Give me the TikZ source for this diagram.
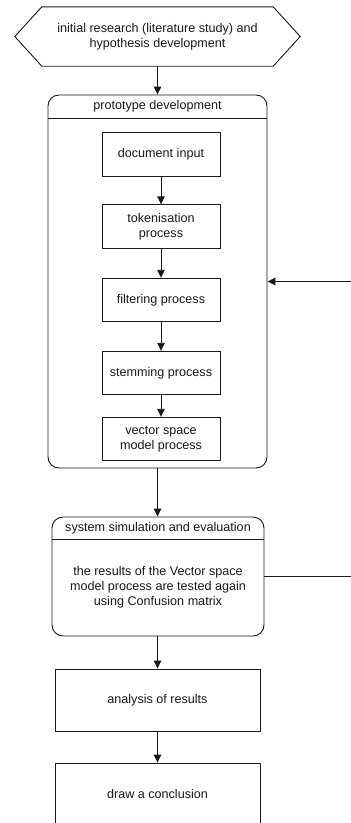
\documentclass[tikz,border=0pt]{standalone}
\usepackage{fontspec}
\setmainfont{Liberation Sans}
\usetikzlibrary{arrows.meta}
\begin{document}
\begin{tikzpicture}[x=1pt,y=-1pt,
  every node/.style={font=\fontsize{12.6pt}{15pt}\selectfont, align=center, inner sep=0pt, text=black!90},
  ln/.style={draw=black!90, line width=0.9pt},
  arr/.style={ln, -{Triangle[length=8pt,width=7.5pt]}},
  procbox/.style={ln, rectangle, minimum width=118pt, minimum height=43.5pt},
  bigbox/.style={ln, rectangle, minimum width=205pt, minimum height=62pt},
  group/.style={ln, rectangle, rounded corners=11pt}
]
\useasboundingbox (0,0) rectangle (351,823);
\clip (0,0) rectangle (351,823);
\fill[white] (0,0) rectangle (351,823);

% hexagon start
\node (hex) [minimum width=231pt, minimum height=59pt] at (157.5,36.5)
  {initial research (literature study) and\\hypothesis development};
\draw[ln] (hex.north west) -- (hex.north east) -- ([xshift=27pt]hex.east) -- (hex.south east)
  -- (hex.south west) -- ([xshift=-27pt]hex.west) -- cycle;

% prototype container
\node (proto) [group, minimum width=219pt, minimum height=373pt] at (157.5,281.5) {};
\node (protohead) at (157.5,106) {prototype development};
\coordinate (pl) at (48,118);
\coordinate (pr) at (267,118);
\draw[ln] (pl) -- (pr);

\node (doc)  [procbox] at (161,154.5) {document input};
\node (tok)  [procbox] at (161,226.5) {tokenisation\\process};
\node (fil)  [procbox] at (161,300) {filtering process};
\node (stem) [procbox] at (161,373) {stemming process};
\node (vsm)  [procbox] at (161,439) {vector space\\model process};

% system simulation
\node (sys) [group, minimum width=212pt, minimum height=119pt] at (158,576.5) {};
\node (syshead) at (158,528) {system simulation and evaluation};
\coordinate (sl) at (52,539);
\coordinate (sr) at (264,539);
\draw[ln] (sl) -- (sr);
\node (sysbody) at (158,587.5) {the results of the Vector space\\model process are tested again\\using Confusion matrix};

\node (ana) [bigbox] at (157.5,700) {analysis of results};
\node (con) [bigbox] at (157.5,794) {draw a conclusion};

% connectors
\draw[arr] (hex.south) -- (proto.north);
\draw[arr] (doc) -- (tok);
\draw[arr] (tok) -- (fil);
\draw[arr] (fil) -- (stem);
\draw[arr] (stem) -- (vsm);
\draw[arr] (proto.south) -- (proto.south |- sys.north);
\draw[arr] (sys.south -| ana.north) -- (ana.north);
\draw[arr] (ana) -- (con);
\coordinate (fb) at (355,576.5);
\draw[arr] (sys.east) -- (fb) |- (proto.east);
\end{tikzpicture}
\end{document}
